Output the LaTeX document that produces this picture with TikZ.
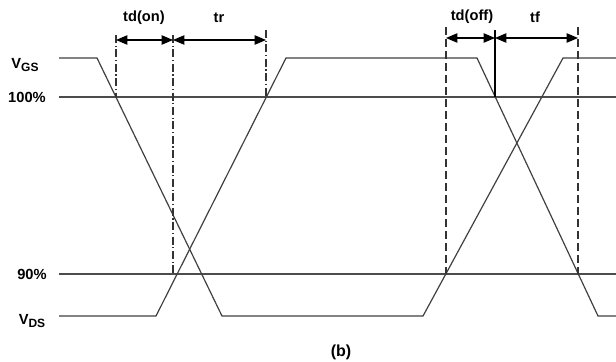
\documentclass[tikz,border=0pt]{standalone}
\usepackage{fontspec}
\setmainfont{Liberation Sans}
\usetikzlibrary{arrows.meta}

\newcommand{\sigsub}[1]{\raisebox{-0.45ex}{\fontsize{9}{9}\selectfont #1}}

\tikzset{
    wave/.style={draw=black!75, line width=0.9pt, line join=miter},
    level/.style={draw=black!70, line width=0.9pt},
    tickdd/.style={draw=black!80, line width=0.8pt, dash pattern=on 6pt off 2pt on 0.8pt off 2pt},
    tickds/.style={draw=black!80, line width=0.8pt, dash pattern=on 6pt off 3pt},
    ticksl/.style={draw=black, line width=0.8pt},
    timearrow/.style={{Triangle[length=8.5pt,width=7pt]}-{Triangle[length=8.5pt,width=7pt]}, line width=0.9pt},
    lbl/.style={font=\bfseries\fontsize{11}{13}\selectfont, inner sep=0pt},
}

\begin{document}
\begin{tikzpicture}[x=0.75pt, y=-0.75pt]
    \useasboundingbox (0,0) rectangle (616,361);

    % reference levels
    \coordinate (l100a) at (59,97);  \coordinate (l100b) at (616,97);
    \coordinate (l90a)  at (59,274); \coordinate (l90b)  at (616,274);
    \draw[level] (l100a) -- (l100b);
    \draw[level] (l90a) -- (l90b);

    % V_GS and V_DS
    \draw[wave] (59,58) -- (97,58) -- (222,316) -- (423,316) -- (563,58) -- (616,58);
    \draw[wave] (59,316) -- (156,316) -- (286,58) -- (477,58) -- (598,316) -- (616,316);

    % time marks
    \foreach \n/\x/\top/\bot/\ay in {on1/116/35/97/40, on2/173/35/274/40, r2/266/30/97/40,
                                     off1/446/27/274/38, off2/495/30/97/38, f2/578/27/274/38} {
        \coordinate (\n-top) at (\x,\top);
        \coordinate (\n-bot) at (\x,\bot);
        \coordinate (\n-arr) at (\x,\ay);
    }
    \draw[tickdd] (on1-top) -- (on1-bot);
    \draw[tickdd] (on2-top) -- (on2-bot);
    \draw[tickdd] (r2-top) -- (r2-bot);
    \draw[tickds] (off1-top) -- (off1-bot);
    \draw[ticksl] (off2-top) -- (off2-bot);
    \draw[tickds] (f2-top) -- (f2-bot);

    \draw[timearrow] (on1-arr) -- (on2-arr);
    \draw[timearrow] (on2-arr) -- (r2-arr);
    \draw[timearrow] (off1-arr) -- (off2-arr);
    \draw[timearrow] (off2-arr) -- (f2-arr);

    % labels
    \node[lbl] (tdon)  at (144,18) {td(on)};
    \node[lbl] (tr)    at (219,18) {tr};
    \node[lbl] (tdoff) at (472,17) {td(off)};
    \node[lbl] (tf)    at (535,17) {tf};
    \node[lbl] (vgs)   at (25,65)  {V\sigsub{GS}};
    \node[lbl] (p100)  at (27,97)  {100\%};
    \node[lbl] (p90)   at (32,274) {90\%};
    \node[lbl] (vds)   at (32,321) {V\sigsub{DS}};
    \node[lbl, font=\bfseries\fontsize{12}{14}\selectfont] (cap) at (341,352) {(b)};
\end{tikzpicture}
\end{document}
